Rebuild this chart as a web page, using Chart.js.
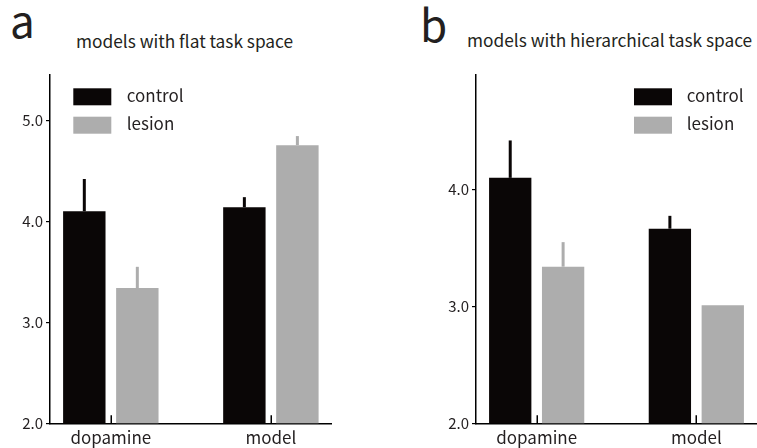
<!DOCTYPE html>
<html><head><meta charset="utf-8">
<script src="https://cdn.jsdelivr.net/npm/chart.js@4/dist/chart.umd.min.js"></script>
<style>
html,body{margin:0;padding:0;background:#fff;}
body{width:757px;height:448px;position:relative;overflow:hidden;font-family:'Noto Sans CJK JP','Noto Sans',sans-serif;color:#231f20;}
.lbl{position:absolute;line-height:1;white-space:nowrap;}
#ca{position:absolute;left:0;top:0;}
#cb{position:absolute;left:426px;top:0;}
</style></head><body>
<div class="lbl" style="left:10px;top:-3px;font-size:44px;">a</div>
<div class="lbl" style="left:76px;top:31.8px;font-size:17.3px;">models with flat task space</div>
<div class="lbl" style="left:420px;top:1px;font-size:44px;">b</div>
<div class="lbl" style="left:467px;top:31.3px;font-size:17.3px;">models with hierarchical task space</div>
<canvas id="ca" width="340" height="448"></canvas>
<canvas id="cb" width="331" height="448"></canvas>
<script>
// ---- data ----
const categories = ['dopamine', 'model'];
const seriesNames = ['control', 'lesion'];
const flatControl = [4.10, 4.14];
const flatControlErr = [0.32, 0.10];
const flatLesion = [3.34, 4.755];
const flatLesionErr = [0.21, 0.09];
const hierControl = [4.10, 3.665];
const hierControlErr = [0.32, 0.11];
const hierLesion = [3.34, 3.01];
const hierLesionErr = [0.21, 0];
const yTicksFlat = [2, 3, 4, 5];
const yTicksHier = [2, 3, 4];

const BLACK = '#0a0606';
const GRAY = '#adadad';
const TXT = '#231f20';
const FONT = "'Noto Sans CJK JP','Noto Sans',sans-serif";
Chart.defaults.font.family = FONT;
Chart.defaults.color = TXT;

const errorBars = {
  id: 'errorBars',
  afterDatasetsDraw(chart) {
    const ctx = chart.ctx, ys = chart.scales.y;
    chart.data.datasets.forEach((ds, di) => {
      const meta = chart.getDatasetMeta(di);
      meta.data.forEach((bar, i) => {
        const e = ds.err[i];
        if (!e) return;
        const v = ds.data[i].y;
        ctx.save();
        ctx.strokeStyle = ds.backgroundColor;
        ctx.lineWidth = 3;
        ctx.beginPath();
        ctx.moveTo(bar.x, ys.getPixelForValue(v));
        ctx.lineTo(bar.x, ys.getPixelForValue(v + e));
        ctx.stroke();
        ctx.restore();
      });
    });
  }
};

const catTicks = {
  id: 'catTicks',
  afterDraw(chart) {
    const ctx = chart.ctx, xs = chart.scales.x, b = chart.chartArea.bottom;
    ctx.save();
    ctx.strokeStyle = '#000';
    ctx.lineWidth = 1.5;
    xs.ticks.forEach(t => {
      const px = Math.round(xs.getPixelForValue(t.value)) + 0.25;
      ctx.beginPath();
      ctx.moveTo(px, b);
      ctx.lineTo(px, b - 8);
      ctx.stroke();
    });
    ctx.restore();
  }
};

const boxLegend = {
  id: 'boxLegend',
  afterDraw(chart, args, opts) {
    const ctx = chart.ctx;
    ctx.save();
    ctx.font = '17px ' + FONT;
    ctx.textBaseline = 'alphabetic';
    ctx.textAlign = 'left';
    chart.data.datasets.forEach((ds, i) => {
      const y = opts.y + i * opts.gap;
      ctx.fillStyle = ds.backgroundColor;
      ctx.fillRect(opts.x, y, 38, 17);
      ctx.fillStyle = TXT;
      ctx.fillText(ds.label, opts.x + opts.textOff, y + 13.5);
    });
    ctx.restore();
  }
};

function makeChart(id, ctrl, ctrlErr, les, lesErr, yMax, yTicks, rightPad, legend) {
  new Chart(document.getElementById(id), {
    type: 'bar',
    data: {
      datasets: [
        { label: seriesNames[0], data: ctrl.map((v, i) => ({ x: i + 1, y: v })), err: ctrlErr,
          backgroundColor: BLACK, categoryPercentage: 0.6625, barPercentage: 0.8 },
        { label: seriesNames[1], data: les.map((v, i) => ({ x: i + 1, y: v })), err: lesErr,
          backgroundColor: GRAY, categoryPercentage: 0.6625, barPercentage: 0.8 }
      ]
    },
    options: {
      responsive: false,
      animation: false,
      layout: { padding: { top: 75, right: rightPad, left: 0, bottom: 0 } },
      plugins: { legend: { display: false }, tooltip: { enabled: false }, boxLegend: legend },
      scales: {
        x: {
          type: 'linear', min: 0.62, max: 2.38, offset: false,
          grid: { display: false },
          border: { display: true, color: '#000', width: 1.5 },
          ticks: { font: { size: 17 }, color: TXT, padding: -4, maxRotation: 0,
                   callback: (v, i) => categories[i] },
          afterBuildTicks: s => { s.ticks = categories.map((c, i) => ({ value: i + 1 })); },
          afterFit: s => { s.height = 24.7; }
        },
        y: {
          type: 'linear', min: 2, max: yMax,
          grid: { display: true, drawOnChartArea: false, drawTicks: true, tickLength: 4, color: '#000', lineWidth: 1.2 },
          border: { display: true, color: '#000', width: 1.5 },
          ticks: { font: { size: 15 }, color: TXT, padding: 3, callback: v => v.toFixed(1) },
          afterBuildTicks: s => { s.ticks = yTicks.map(v => ({ value: v })); },
          afterFit: s => { s.width = 50; }
        }
      }
    },
    plugins: [errorBars, catTicks, boxLegend]
  });
}

makeChart('ca', flatControl, flatControlErr, flatLesion, flatLesionErr, 5.45, yTicksFlat, 8.3,
          { x: 73.3, y: 88.3, gap: 28.4, textOff: 53.4 });
makeChart('cb', hierControl, hierControlErr, hierLesion, hierLesionErr, 4.98, yTicksHier, 0,
          { x: 208, y: 88.3, gap: 28.4, textOff: 52.7 });
</script>
</body></html>
